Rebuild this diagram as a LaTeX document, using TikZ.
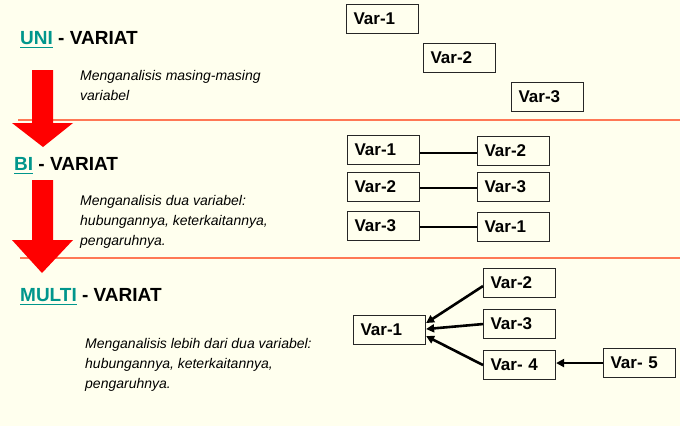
\documentclass[tikz,border=0pt]{standalone}
\usepackage{fontspec}
\setmainfont{Liberation Sans}
\newcommand\ulnk[1]{\leavevmode\setbox0\hbox{#1}\rlap{\vrule width\wd0 height -2.6pt depth 4.3pt}\box0}
\usetikzlibrary{arrows.meta}
\definecolor{bgc}{RGB}{255,255,238}
\definecolor{tealc}{RGB}{0,150,140}
\definecolor{sepc}{RGB}{255,120,85}
\definecolor{redc}{RGB}{255,0,0}
\tikzset{
  head/.style={anchor=base west, inner sep=0, font=\fontsize{19}{22}\selectfont\bfseries},
  desc/.style={anchor=base west, inner sep=0, align=left, font=\fontsize{14}{20}\selectfont\itshape},
  vbox/.style={draw=black!85, line width=1.1pt, fill=bgc, anchor=north west, minimum width=72pt, minimum height=29pt, inner xsep=7pt, inner ysep=0pt, text width=58pt, align=left, font=\fontsize{17}{20}\selectfont\bfseries},
  link/.style={line width=2.6pt, black},
  arr/.style={line width=2.6pt, black, -{Triangle[length=8pt,width=8pt]}},
  bigarrow/.style={fill=redc, draw=none},
  sep/.style={sepc, line width=1.2pt}
}
\begin{document}
\begin{tikzpicture}[x=1pt,y=-1pt]
\fill[bgc] (0,0) rectangle (680,426);
\useasboundingbox (0,0) rectangle (680,426);
% separators
\coordinate (s1a) at (18,120); \coordinate (s1b) at (680,120);
\coordinate (s2a) at (20,258); \coordinate (s2b) at (680,258);
\draw[sep] (s1a) -- (s1b);
\draw[sep] (s2a) -- (s2b);
% red arrows
\fill[bigarrow] (32,70) -- (53,70) -- (53,123) -- (73,123) -- (43,147) -- (12,123) -- (32,123) -- cycle;
\fill[bigarrow] (32,180) -- (53,180) -- (53,240) -- (73,240) -- (42,273) -- (12,240) -- (32,240) -- cycle;
% headers
\node[head] (h1) at (20,44) {\textcolor{tealc}{\ulnk{UNI}} - VARIAT};
\node[head] (h2) at (14,170) {\textcolor{tealc}{\ulnk{BI}} - VARIAT};
\node[head] (h3) at (20,301) {\textcolor{tealc}{\ulnk{MULTI}} - VARIAT};
% descriptions (base = last line)
\node[desc] (d1) at (80,100) {Menganalisis masing-masing\\variabel};
\node[desc] (d2) at (80,245) {Menganalisis dua variabel:\\hubungannya, keterkaitannya,\\pengaruhnya.};
\node[desc] (d3) at (85,388) {Menganalisis lebih dari dua variabel:\\hubungannya, keterkaitannya,\\pengaruhnya.};
% section 1
\node[vbox] (u1) at (346,4) {Var-1};
\node[vbox] (u2) at (423,43) {Var-2};
\node[vbox] (u3) at (511,82) {Var-3};
% section 2
\node[vbox] (a1) at (347,135) {Var-1};
\node[vbox] (b1) at (477,136) {Var-2};
\node[vbox] (a2) at (347,172) {Var-2};
\node[vbox] (b2) at (477,172) {Var-3};
\node[vbox] (a3) at (347,211) {Var-3};
\node[vbox] (b3) at (477,212) {Var-1};
\draw[link] ([yshift=-3pt]a1.east) -- ([yshift=-3pt]a1.east -| b1.west);
\draw[link] ([yshift=-1pt]a2.east) -- ([yshift=-1pt]a2.east -| b2.west);
\draw[link] ([yshift=-1pt]a3.east) -- ([yshift=-1pt]a3.east -| b3.west);
% section 3
\node[vbox] (m1) at (353,315) {Var-1};
\node[vbox] (m2) at (483,268) {Var-2};
\node[vbox] (m3) at (483,309) {Var-3};
\node[vbox] (m4) at (483,350) {Var- 4};
\node[vbox] (m5) at (603,348) {Var- 5};
\draw[arr] ([yshift=-3pt]m2.west) -- ([yshift=7pt]m1.east);
\draw[arr] (m3.west) -- ([yshift=1pt]m1.east);
\draw[arr] (m4.west) -- ([yshift=-6pt]m1.east);
\draw[arr] (m5.west) -- (m5.west -| m4.east);
\end{tikzpicture}
\end{document}
